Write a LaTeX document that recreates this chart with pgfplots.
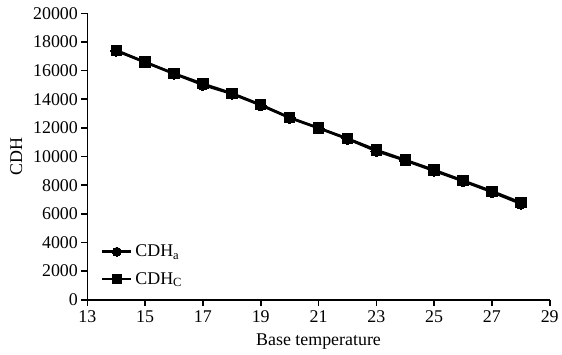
\documentclass[border=0pt]{standalone}
\usepackage{fontspec}
\setmainfont{Liberation Serif}
\usepackage{pgfplots}
\pgfplotsset{compat=1.18}
\begin{document}
\begin{tikzpicture}
\begin{axis}[
  scale only axis,
  width=465pt, height=288pt,
  xmin=13, xmax=29, ymin=0, ymax=20000,
  axis x line=bottom, axis y line=left,
  axis line style={-, line width=1.6pt},
  xtick={13,15,17,19,21,23,25,27,29},
  ytick={0,2000,...,20000},
  tick style={line width=1.6pt, black},
  tick align=outside,
  major tick length=6pt,
  /pgf/number format/assume math mode=true,
  /pgf/number format/1000 sep={},
  scaled y ticks=false,
  tick label style={font=\fontsize{18}{20}\selectfont},
  label style={font=\fontsize{18}{20}\selectfont},
  xticklabel style={yshift=-1pt},
  xlabel={Base temperature},
  ylabel={CDH},
  xlabel style={yshift=-5pt},
  ylabel style={yshift=4pt},
  legend style={at={(0.023,0.031)}, anchor=south west, draw=none, fill=none,
    font=\fontsize{18}{20}\selectfont, row sep=8pt, nodes={inner sep=3pt}},
  legend cell align=left,
  legend image code/.code={\draw[#1, mark repeat=2, mark phase=2, mark size=4.5pt] plot coordinates {(0pt,0pt)(14.5pt,0pt)(29pt,0pt)};},
]
\addplot[black, line width=2.5pt, mark=*, mark size=5.5pt, mark options={line width=0pt}]
coordinates {(14,17380)(15,16580)(16,15780)(17,15000)(18,14380)(19,13580)(20,12700)(21,11980)(22,11230)(23,10380)(24,9720)(25,9000)(26,8280)(27,7520)(28,6700)};
\addlegendentry{CDH\textsubscript{a}}
\addplot[black, line width=2.5pt, mark=square*, mark size=5.2pt, mark options={line width=0pt}]
coordinates {(14,17420)(15,16600)(16,15800)(17,15080)(18,14420)(19,13620)(20,12720)(21,12000)(22,11260)(23,10460)(24,9760)(25,9060)(26,8320)(27,7580)(28,6780)};
\addlegendentry{CDH\textsubscript{C}}
\end{axis}
\path (current bounding box.north) ++(0,4pt);
\path (current bounding box.west) ++(-7pt,0);
\path (current bounding box.south) ++(0,-2pt);
\end{tikzpicture}
\end{document}
